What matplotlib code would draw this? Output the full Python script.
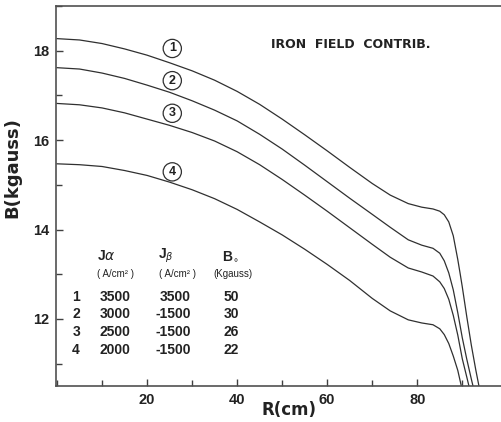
import matplotlib
matplotlib.use("Agg")
import matplotlib.pyplot as plt
from matplotlib.ticker import MultipleLocator

# curves: radius (cm) and field (kgauss)
r1 = [0, 5, 10, 15, 20, 25, 30, 35, 40, 45, 50, 55, 60, 65, 70, 74, 78, 81, 83.5, 85, 86, 87, 88, 89, 89.5, 90, 91, 92, 93, 93.8]
b1 = [18.27, 18.24, 18.16, 18.04, 17.90, 17.73, 17.55, 17.34, 17.09, 16.80, 16.47, 16.12, 15.76, 15.39, 15.03,
      14.77, 14.58, 14.50, 14.46, 14.41, 14.33, 14.17, 13.86, 13.33, 13.03, 12.72, 12.05, 11.42, 10.86, 10.45]

r2 = [0, 5, 10, 15, 20, 25, 30, 35, 40, 45, 50, 55, 60, 65, 70, 74, 78, 81, 83.5, 85, 86, 87, 88, 89, 90, 91, 92, 92.5]
b2 = [17.62, 17.59, 17.50, 17.38, 17.23, 17.07, 16.88, 16.67, 16.43, 16.13, 15.80, 15.44, 15.07, 14.70, 14.34,
      14.05, 13.77, 13.65, 13.58, 13.47, 13.30, 13.03, 12.65, 12.14, 11.58, 11.10, 10.66, 10.45]

r3 = [0, 5, 10, 15, 20, 25, 30, 35, 40, 45, 50, 55, 60, 65, 70, 74, 78, 81, 83.5, 85, 86, 87, 88, 89, 90, 91, 91.6]
b3 = [16.82, 16.79, 16.72, 16.61, 16.47, 16.33, 16.17, 15.98, 15.74, 15.45, 15.12, 14.77, 14.41, 14.04, 13.67,
      13.38, 13.14, 13.05, 12.96, 12.83, 12.68, 12.44, 12.08, 11.64, 11.11, 10.70, 10.45]

r4 = [0, 5, 10, 15, 20, 25, 30, 35, 40, 45, 50, 55, 60, 65, 70, 74, 78, 81, 83.5, 85, 86, 87, 88, 89, 89.9]
b4 = [15.47, 15.45, 15.41, 15.32, 15.21, 15.06, 14.89, 14.69, 14.45, 14.17, 13.88, 13.56, 13.22, 12.86, 12.46,
      12.18, 11.98, 11.91, 11.87, 11.78, 11.65, 11.45, 11.17, 10.85, 10.45]

curve_ids = ["1", "2", "3", "4"]
mark_r = [25.6, 25.6, 25.6, 25.6]
mark_b = [18.05, 17.33, 16.60, 15.29]

# parameter table
j_alpha = [3500, 3000, 2500, 2000]
j_beta = [3500, -1500, -1500, -1500]
b_zero = [50, 30, 26, 22]

fig = plt.figure(figsize=(5.01, 4.22), dpi=100)
ax = fig.add_axes([0.112, 0.0853, 0.888, 0.9005])

for r, b in [(r1, b1), (r2, b2), (r3, b3), (r4, b4)]:
    ax.plot(r, b, color="#303030", lw=0.9)

ax.set_xlim(-0.2, 98.6)
ax.set_ylim(10.5, 19.0)

ax.xaxis.set_major_locator(MultipleLocator(20))
ax.xaxis.set_minor_locator(MultipleLocator(10))
ax.yaxis.set_major_locator(MultipleLocator(2))
ax.yaxis.set_minor_locator(MultipleLocator(1))
ax.set_xticks([20, 40, 60, 80])

ax.tick_params(which="both", direction="in", width=1, colors="#404040")
ax.tick_params(which="major", length=5, pad=5, labelsize=10.5, labelcolor="#222")
ax.tick_params(which="minor", length=4)
for lab in ax.get_xticklabels() + ax.get_yticklabels():
    lab.set_family("Liberation Sans")
    lab.set_fontweight("bold")

ax.spines["right"].set_visible(False)
for s in ["left", "bottom", "top"]:
    ax.spines[s].set_color("#505050")
    ax.spines[s].set_linewidth(1.2)

ax.set_ylabel("B(kgauss)", family="DejaVu Sans", fontweight="bold", fontsize=13, color="#222")
ax.yaxis.set_label_coords(-0.077, 0.576)
ax.set_xlabel("R(cm)", family="DejaVu Sans", fontweight="bold", fontsize=12, color="#222")
ax.xaxis.set_label_coords(0.524, -0.04)

ax.text(47.5, 18.13, "IRON  FIELD  CONTRIB.", family="DejaVu Sans", fontweight="bold",
        fontsize=9, color="#222", va="center", ha="left")

for cid, x, y in zip(curve_ids, mark_r, mark_b):
    ax.text(x, y, cid, ha="center", va="center", family="Liberation Sans", fontweight="bold",
            fontsize=9, color="#222",
            bbox=dict(boxstyle="circle,pad=0.25", fc="white", ec="#303030", lw=0.9))

# table
num = dict(family="Liberation Sans", fontweight="bold", fontsize=10, color="#222", va="center")
ax.text(8.9, 13.41, r"J$\alpha$", ha="left", **num)
ax.text(22.4, 13.41, r"J$_\beta$", ha="left", **num)
ax.text(36.6, 13.41, r"B$_{\circ}$", ha="left", **num)
unit = dict(family="Liberation Sans", fontsize=7, color="#222", va="center", ha="center")
ax.text(12.9, 13.0, "( A/cm² )", **unit)
ax.text(26.7, 13.0, "( A/cm² )", **unit)
ax.text(39.1, 13.0, "(Kgauss)", **unit)

row_y = [12.50, 12.11, 11.71, 11.31]
for i in range(4):
    ax.text(4.24, row_y[i], str(i + 1), ha="center", **num)
    ax.text(16.3, row_y[i], str(j_alpha[i]), ha="right", **num)
    ax.text(29.7, row_y[i], str(j_beta[i]), ha="right", **num)
    ax.text(40.4, row_y[i], str(b_zero[i]), ha="right", **num)

fig.savefig("out.png", dpi=100)
